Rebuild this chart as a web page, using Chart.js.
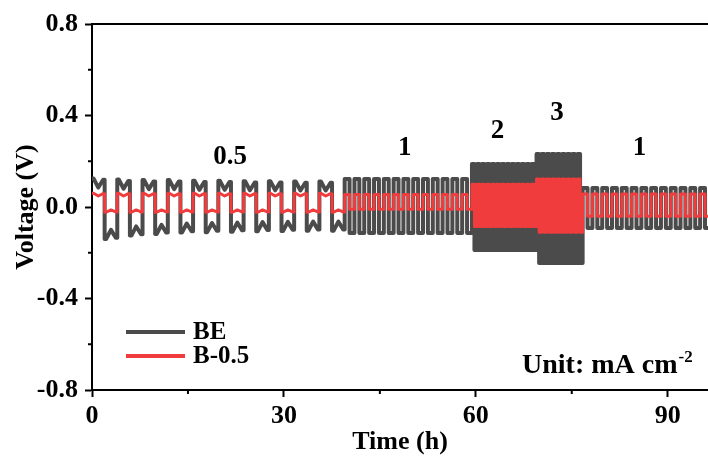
<!DOCTYPE html>
<html>
<head>
<meta charset="utf-8">
<script src="https://cdn.jsdelivr.net/npm/chart.js@4.4.0/dist/chart.umd.min.js"></script>
<style>
  html, body { margin: 0; padding: 0; background: #fff; }
</style>
</head>
<body>
<canvas id="voltage_chart" width="708" height="460"></canvas>
<script>
const seriesNames = ["BE", "B-0.5"];
const seriesColors = ["#4b4b4b", "#f03c3c"];

// current steps (mA cm-2) and their time windows (h)
const stepNames = ["0.5", "1", "2", "3", "1"];
const stepStart = [0, 39.5, 59.4, 69.5, 76.7];
const stepEnd = [39.5, 59.4, 69.5, 76.7, 96.6];
const stepCycles = [10, 13, 13, 9, 13];

// BE plateau per step (V)
const beHigh = [0.118, 0.122, 0.188, 0.232, 0.083];
const beLow = [-0.105, -0.114, -0.188, -0.245, -0.092];
// BE at 0.5 mA cm-2, cycle by cycle (spike level) and the sag mid-plateau
const beTop05 = [0.125, 0.12, 0.118, 0.118, 0.115, 0.115, 0.113, 0.113, 0.112, 0.112];
const beBottom05 = [-0.14, -0.125, -0.118, -0.112, -0.11, -0.108, -0.106, -0.105, -0.104, -0.104];
const beSag05 = 0.04;

// B-0.5 plateau per step (V)
const redHigh = [0.05, 0.055, 0.1, 0.122, 0.057];
const redLow = [-0.015, -0.01, -0.085, -0.11, -0.04];

// step labels position (h, V)
const tagX = [21.6, 48.9, 63.4, 72.7, 85.6];
const tagY = [0.219, 0.258, 0.332, 0.41, 0.258];

const serifBold = (size) => ({ family: "'Liberation Serif', 'Times New Roman', serif", weight: "bold", size: size });

const halfWave = (pts, t0, half, level, sag) => {
  // spike, sag in the middle, recovery toward the end of the half cycle
  pts.push({ x: t0, y: level });
  pts.push({ x: t0 + half * 0.12, y: level });
  pts.push({ x: t0 + half * 0.5, y: level - sag });
  pts.push({ x: t0 + half * 0.88, y: level - sag * 0.15 });
  pts.push({ x: t0 + half, y: level - sag * 0.15 });
};

const buildBE = () => {
  const pts = [];
  stepNames.forEach((name, i) => {
    const period = (stepEnd[i] - stepStart[i]) / stepCycles[i];
    const half = period / 2;
    for (let k = 0; k < stepCycles[i]; k++) {
      const t0 = stepStart[i] + k * period;
      if (i === 0) {
        halfWave(pts, t0, half, beTop05[k], beSag05);
        halfWave(pts, t0 + half, half, beBottom05[k], -beSag05);
      } else {
        pts.push({ x: t0, y: beHigh[i] }, { x: t0 + half, y: beHigh[i] });
        pts.push({ x: t0 + half, y: beLow[i] }, { x: t0 + period, y: beLow[i] });
      }
    }
  });
  return pts;
};

const buildRed = () => {
  const pts = [];
  stepNames.forEach((name, i) => {
    const period = (stepEnd[i] - stepStart[i]) / stepCycles[i];
    const half = period / 2;
    for (let k = 0; k < stepCycles[i]; k++) {
      const t0 = stepStart[i] + k * period;
      if (i === 0) {
        halfWave(pts, t0, half, redHigh[i] + 0.01, 0.012);
        halfWave(pts, t0 + half, half, redLow[i] - 0.008, -0.01);
      } else {
        pts.push({ x: t0, y: redHigh[i] }, { x: t0 + half, y: redHigh[i] });
        pts.push({ x: t0 + half, y: redLow[i] }, { x: t0 + period, y: redLow[i] });
      }
    }
  });
  return pts;
};

// frame on top, minor ticks, step tags, legend and unit note
const decorations = {
  id: "decorations",
  afterDraw(chart) {
    const { ctx, chartArea, scales } = chart;
    const x = scales.x, y = scales.y;
    ctx.save();
    ctx.strokeStyle = "#000";
    ctx.lineWidth = 2;
    ctx.beginPath();
    ctx.moveTo(chartArea.left - 1, chartArea.top);
    ctx.lineTo(chartArea.right, chartArea.top);
    ctx.stroke();

    [15, 45, 75].forEach((v) => {
      const px = x.getPixelForValue(v);
      ctx.beginPath();
      ctx.moveTo(px, chartArea.bottom);
      ctx.lineTo(px, chartArea.bottom + 4);
      ctx.stroke();
    });
    [-0.6, -0.2, 0.2, 0.6].forEach((v) => {
      const py = y.getPixelForValue(v);
      ctx.beginPath();
      ctx.moveTo(chartArea.left, py);
      ctx.lineTo(chartArea.left - 4, py);
      ctx.stroke();
    });

    ctx.fillStyle = "#000";
    ctx.textAlign = "center";
    ctx.textBaseline = "middle";
    ctx.font = "bold 27px 'Liberation Serif', serif";
    stepNames.forEach((name, i) => {
      ctx.fillText(name, x.getPixelForValue(tagX[i]), y.getPixelForValue(tagY[i]));
    });

    // legend
    ctx.textAlign = "left";
    ctx.font = "bold 25px 'Liberation Serif', serif";
    chart.data.datasets.forEach((ds, i) => {
      const ly = 332 + i * 24;
      ctx.strokeStyle = ds.borderColor;
      ctx.lineWidth = 4;
      ctx.beginPath();
      ctx.moveTo(126, ly);
      ctx.lineTo(185, ly);
      ctx.stroke();
      ctx.fillText(ds.label, 193, ly + 1);
    });

    // unit note
    ctx.textBaseline = "alphabetic";
    ctx.font = "bold 28px 'Liberation Serif', serif";
    const unit = "Unit: mA cm";
    ctx.fillText(unit, 522, 373);
    const w = ctx.measureText(unit).width;
    ctx.font = "bold 17px 'Liberation Serif', serif";
    ctx.fillText("-2", 522 + w + 1, 362);
    ctx.restore();
  },
};

new Chart(document.getElementById("voltage_chart"), {
  type: "line",
  data: {
    datasets: [
      {
        label: seriesNames[0],
        data: buildBE(),
        borderColor: seriesColors[0],
        borderWidth: 4,
        order: 1,
      },
      {
        label: seriesNames[1],
        data: buildRed(),
        borderColor: seriesColors[1],
        borderWidth: 3,
        order: 0,
      },
    ],
  },
  options: {
    responsive: false,
    animation: false,
    parsing: false,
    layout: { padding: { top: 24, right: 0, left: 0, bottom: 0 } },
    elements: {
      point: { radius: 0 },
      line: { tension: 0, borderJoinStyle: "round", borderCapStyle: "round", fill: false },
    },
    plugins: {
      legend: { display: false },
      tooltip: { enabled: false },
    },
    scales: {
      x: {
        type: "linear",
        min: 0,
        max: 96.3,
        ticks: { stepSize: 30, includeBounds: false, color: "#000", font: serifBold(26), padding: 4, maxRotation: 0 },
        grid: { drawOnChartArea: false, tickLength: 7, tickWidth: 2, tickColor: "#000" },
        border: { color: "#000", width: 2 },
        title: { display: true, text: "Time (h)", color: "#000", font: serifBold(26), padding: { top: 0, bottom: 2 } },
        afterFit: (s) => { s.height = 70; },
      },
      y: {
        type: "linear",
        min: -0.8,
        max: 0.8,
        ticks: {
          stepSize: 0.4,
          color: "#000",
          font: serifBold(26),
          padding: 7,
          callback: (v) => (Math.abs(v) < 1e-9 ? "0.0" : v.toFixed(1)),
        },
        grid: { drawOnChartArea: false, tickLength: 7, tickWidth: 2, tickColor: "#000" },
        border: { color: "#000", width: 2 },
        title: { display: true, text: "Voltage (V)", color: "#000", font: serifBold(26), padding: { top: 11, bottom: 0 } },
        afterFit: (s) => { s.width = 92; },
      },
    },
  },
  plugins: [decorations],
});
</script>
</body>
</html>
